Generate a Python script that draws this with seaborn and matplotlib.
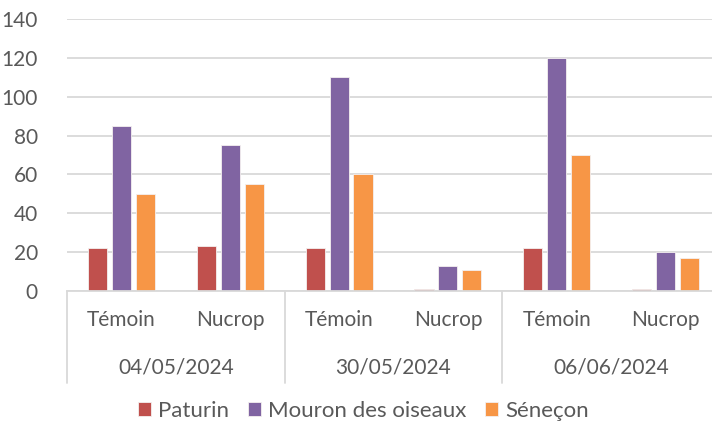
import numpy as np
import pandas as pd
import seaborn as sns
import matplotlib.pyplot as plt
from matplotlib.transforms import blended_transform_factory

# donnees
dates = ["04/05/2024", "30/05/2024", "06/06/2024"]
traitements = ["Témoin", "Nucrop"]
especes = ["Paturin", "Mouron des oiseaux", "Séneçon"]
paturin = [22, 23, 22, 1, 22, 1]
mouron = [85, 75, 110, 13, 120, 20]
senecon = [50, 55, 60, 11, 70, 17]
couleurs = ["#C0504D", "#8064A2", "#F79646"]

cats = [d + " " + t for d in dates for t in traitements]
df = pd.DataFrame({
    "cat": np.tile(cats, 3),
    "espece": np.repeat(especes, len(cats)),
    "valeur": paturin + mouron + senecon,
})

sns.set_style("white")
plt.rcParams["font.family"] = ["Lato", "DejaVu Sans"]
gris = "#595959"
ligne = "#D9D9D9"

fig = plt.figure(figsize=(7.12, 4.28), dpi=100)
ax = fig.add_axes([67 / 712, 137 / 428, 653 / 712, 272 / 428])

sns.barplot(data=df, x="cat", y="valeur", hue="espece", order=cats,
            hue_order=especes, palette=couleurs, saturation=1, width=0.66,
            gap=0.2, edgecolor="#f4f0f0", linewidth=0.6, ax=ax, legend=True)

ax.set_ylim(0, 140)
ax.set_xlim(-0.5, len(cats) - 0.5)
ax.set_yticks(range(0, 141, 20))
ax.yaxis.grid(True, color=ligne, linewidth=1.3)
ax.set_axisbelow(True)
for s in ["top", "right", "left"]:
    ax.spines[s].set_visible(False)
ax.spines["bottom"].set_color(ligne)
ax.spines["bottom"].set_linewidth(1.3)
ax.set_xlabel("")
ax.set_ylabel("")
ax.tick_params(axis="y", length=0, labelsize=15, labelcolor=gris, pad=21)
ax.tick_params(axis="x", length=0, labelsize=15, labelcolor=gris, pad=21)
ax.set_xticks(range(len(cats)))
ax.set_xticklabels(traitements * len(dates))
for t in ax.get_xticklabels():
    t.set_verticalalignment("center")

# niveau des dates et separateurs
trans = blended_transform_factory(ax.transData, ax.transAxes)
n = len(traitements)
for i, d in enumerate(dates):
    ax.text(i * n + (n - 1) / 2, -0.283, d, transform=trans, ha="center",
            va="center", fontsize=15, color=gris)
for i in range(len(dates)):
    x0 = i * n - 0.5
    ax.plot([x0, x0], [0, -0.34], transform=trans, color=ligne,
            linewidth=1.3, clip_on=False)

h, l = ax.get_legend_handles_labels()
ax.get_legend().remove()
fig.legend(h, l, loc="center", bbox_to_anchor=(0.51, 0.04), ncol=3,
           frameon=False, fontsize=16, handlelength=0.6, handleheight=0.6,
           handletextpad=0.3, columnspacing=0.85, labelcolor=gris)

fig.savefig("out.png", dpi=100)
